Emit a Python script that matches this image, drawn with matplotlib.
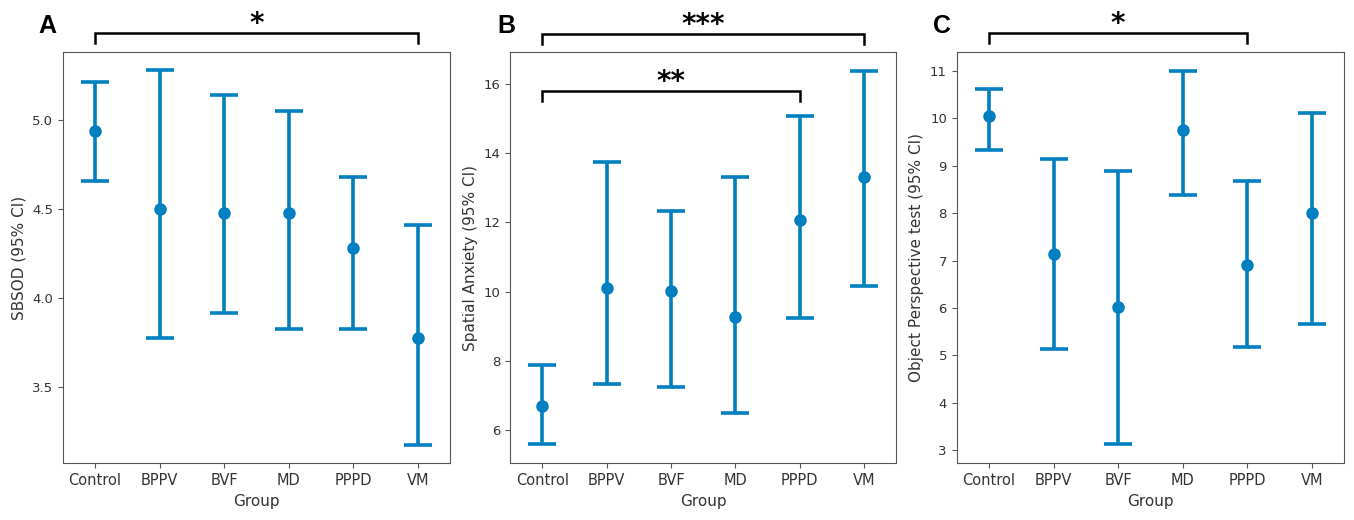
import numpy as np
import matplotlib.pyplot as plt
from matplotlib.lines import Line2D
from matplotlib.transforms import blended_transform_factory

# ------------------------------ Data ----------------------------------------
groups = ['Control', 'BPPV', 'BVF', 'MD', 'PPPD', 'VM']

sbsod_mean = [4.94, 4.50, 4.48, 4.48, 4.28, 3.78]
sbsod_low  = [4.66, 3.78, 3.92, 3.83, 3.83, 3.18]
sbsod_high = [5.21, 5.28, 5.14, 5.05, 4.68, 4.41]

anx_mean = [6.69, 10.09, 10.01, 9.27, 12.08, 13.31]
anx_low  = [5.59, 7.32, 7.24, 6.49, 9.22, 10.16]
anx_high = [7.87, 13.74, 12.33, 13.32, 15.08, 16.39]

opt_mean = [10.04, 7.15, 6.02, 9.76, 6.90, 8.01]
opt_low  = [9.33, 5.14, 3.13, 8.39, 5.17, 5.66]
opt_high = [10.63, 9.14, 8.88, 11.00, 8.67, 10.11]

# significance brackets: (group i, group j, stars)
sig_a = [(0, 5, '*')]
sig_b = [(0, 5, '***'), (0, 4, '**')]
sig_c = [(0, 4, '*')]

# ------------------------------ Figure --------------------------------------
W, H = 1354, 520
fig = plt.figure(figsize=(W / 100, H / 100), dpi=100)
color = '#007fc1'

panels = [
    dict(left=62.7, right=450, mean=sbsod_mean, low=sbsod_low, high=sbsod_high,
         ylabel='SBSOD (95% CI)', ylim=(3.075, 5.381), yticks=[3.5, 4.0, 4.5, 5.0],
         fmt='{:.1f}', letter='A', lx=38, sig=sig_a, sig_y=[33]),
    dict(left=510.3, right=896, mean=anx_mean, low=anx_low, high=anx_high,
         ylabel='Spatial Anxiety (95% CI)', ylim=(5.03, 16.93), yticks=[6, 8, 10, 12, 14, 16],
         fmt='{:d}', letter='B', lx=497, sig=sig_b, sig_y=[34, 91]),
    dict(left=956.7, right=1344, mean=opt_mean, low=opt_low, high=opt_high,
         ylabel='Object Perspective test (95% CI)', ylim=(2.726, 11.40),
         yticks=list(range(3, 12)), fmt='{:d}', letter='C', lx=933, sig=sig_c, sig_y=[33]),
]

top_px, bot_px = 52, 463.3
x = np.arange(len(groups))

for p in panels:
    ax = fig.add_axes([p['left'] / W, 1 - bot_px / H,
                       (p['right'] - p['left']) / W, (bot_px - top_px) / H])
    m = np.array(p['mean'])
    err = [m - np.array(p['low']), np.array(p['high']) - m]
    ax.errorbar(x, m, yerr=err, fmt='o', color=color, ms=8, elinewidth=2.6,
                capsize=10, capthick=2.6, lw=0)
    ax.set_xlim(-0.5, len(groups) - 0.5)
    ax.set_ylim(*p['ylim'])
    ax.set_xticks(x)
    ax.set_xticklabels(groups, fontsize=10.5, color='#333333')
    ax.set_yticks(p['yticks'])
    ax.set_yticklabels([p['fmt'].format(t) for t in p['yticks']], fontsize=9.5, color='#333333')
    ax.set_xlabel('Group', fontsize=11, color='#333333')
    ax.set_ylabel(p['ylabel'], fontsize=11, color='#333333')
    for s in ax.spines.values():
        s.set_color('#555555')
    ax.tick_params(colors='#555555', labelcolor='#333333')

    # brackets: x in data, y in figure pixels from the top
    tr = blended_transform_factory(ax.transData, fig.transFigure)
    for (i, j, stars), yb in zip(p['sig'], p['sig_y']):
        yh = 1 - yb / H
        yl = 1 - (yb + 10) / H
        fig.add_artist(Line2D([i, i, j, j], [yl, yh, yh, yl], transform=tr,
                              color='black', lw=1.8, solid_joinstyle='miter'))
        fig.text((i + j) / 2, 1 - (yb - 1) / H, stars, transform=tr, ha='center',
                 va='baseline', fontsize=20, fontweight='bold', color='black')

    fig.text(p['lx'] / W, 1 - 33 / H, p['letter'], fontsize=18, fontweight='bold',
             family='Liberation Sans', ha='left', va='baseline')

fig.savefig('out.png', dpi=100)
